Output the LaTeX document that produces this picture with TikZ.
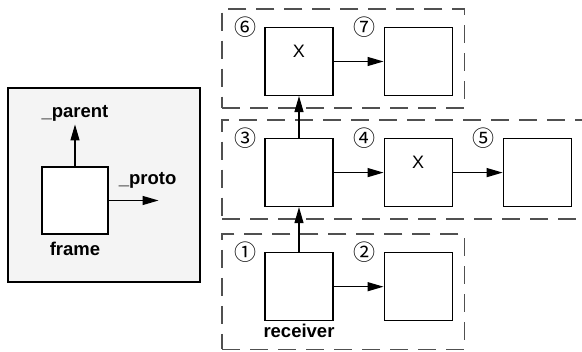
\documentclass[tikz,border=0pt]{standalone}
\usepackage{fontspec}
\setmainfont{Liberation Sans}
\newfontfamily\circfont{Noto Sans CJK JP}
\usetikzlibrary{
  arrows.meta,
  positioning,
  fit,
  calc
}
\definecolor{panelgrey}{HTML}{F4F4F4}
\definecolor{dashgrey}{HTML}{505050}
\tikzset{
  objbox/.style={
    rectangle, draw=black, fill=white, line width=1.1pt,
    minimum width=68pt, minimum height=68pt, inner sep=0pt
  },
  panel/.style={
    rectangle, draw=black, fill=panelgrey, line width=1.1pt,
    minimum width=192pt, minimum height=194pt
  },
  group/.style={
    rectangle, draw=dashgrey, line width=1.4pt,
    dash pattern=on 18pt off 10pt, inner sep=#1
  },
  ptr/.style={
    -{Triangle[length=16pt,width=9pt]}, line width=1.2pt
  },
  slotlbl/.style={
    font=\fontsize{18.5}{20}\selectfont\bfseries, inner sep=3pt
  },
  hitlbl/.style={
    font=\fontsize{18}{20}\selectfont, inner sep=3pt
  },
  stepnum/.style={
    font=\circfont\fontsize{22}{24}\selectfont, inner sep=0pt
  },
}

\begin{document}
\begin{tikzpicture}
  \useasboundingbox (0,0) rectangle (582pt,-352pt);

  % the frame legend
  \node[panel] (legend) at (104pt,-185pt) {};
  \node[objbox, minimum width=66pt, minimum height=67pt] (frame) at (75pt,-200.5pt) {};
  \node[slotlbl, below=4pt of frame] (framelbl) {frame};
  \node[slotlbl, above=42pt of frame] (parent) {\_parent};
  \coordinate[right=50pt of frame.east] (protoend);
  \node[slotlbl, above=9pt of protoend, xshift=-11pt] (proto) {\_proto};

  \draw[ptr] (frame) -- (parent);
  \draw[ptr] (frame.east) -- (protoend);

  % lookup chain
  \node[objbox] (b6) at (299pt,-61.5pt) {};
  \node[objbox, right=50pt of b6] (b7) {};
  \node[objbox, below=42pt of b6] (b3) {};
  \node[objbox, right=50pt of b3] (b4) {};
  \node[objbox, right=50pt of b4] (b5) {};
  \node[objbox, below=45pt of b3] (b1) {};
  \node[objbox, right=50pt of b1] (b2) {};

  \node[hitlbl, below=15pt of b6.north] (x6) {X};
  \node[hitlbl, below=15pt of b4.north] (x4) {X};
  \node[slotlbl, inner sep=0pt, below=3pt of b1] (recv) {receiver};

  \node[stepnum, left=8pt of b1.north west] (n1) {①};
  \node[stepnum, left=8pt of b2.north west] (n2) {②};
  \node[stepnum, left=8pt of b3.north west] (n3) {③};
  \node[stepnum, left=8pt of b4.north west] (n4) {④};
  \node[stepnum, left=8pt of b5.north west] (n5) {⑤};
  \node[stepnum, left=8pt of b6.north west] (n6) {⑥};
  \node[stepnum, left=8pt of b7.north west] (n7) {⑦};

  % corners of the dashed groups
  \coordinate[above=6pt of n6.west] (topcorner);
  \coordinate[above=6pt of n3.west] (midcorner);
  \coordinate[above=6pt of n1.west] (botcorner);
  \coordinate (midend) at ($(b5.east)+(40pt,0)$);
  \coordinate[below=16pt of b1.south] (botend);

  \node[group=12pt, fit=(topcorner)(b6)(b7)] (top) {};
  \node[group=12pt, fit=(midcorner)(b3)(b5)(midend)] (mid) {};
  \node[group=12pt, fit=(botcorner)(b1)(b2)(botend)] (bot) {};

  \draw[ptr] (b6) -- (b7);
  \draw[ptr] (b3) -- (b4);
  \draw[ptr] (b4) -- (b5);
  \draw[ptr] (b1) -- (b2);
  \draw[ptr] (b1) -- (b3);
  \draw[ptr] (b3) -- (b6);
\end{tikzpicture}
\end{document}
